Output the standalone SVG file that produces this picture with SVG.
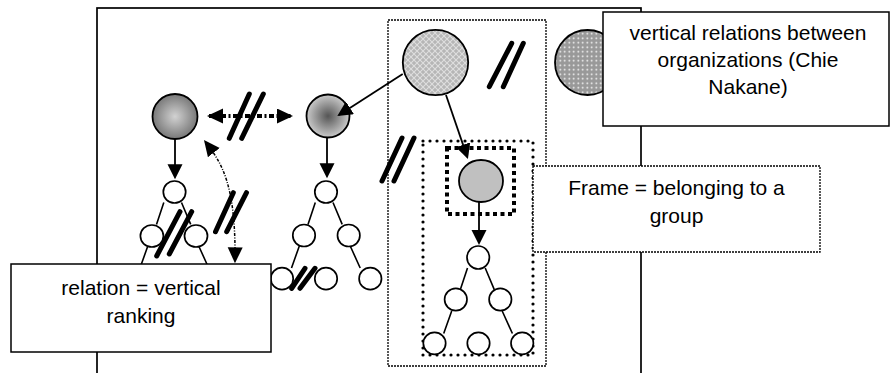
<svg xmlns="http://www.w3.org/2000/svg" width="890" height="373" viewBox="0 0 890 373">
<style>
.frame{fill:none;stroke:#000;stroke-width:1.7}
.thin{fill:none;stroke:#000;stroke-width:1.3;stroke-dasharray:2 1}
.dots{fill:none;stroke:#000;stroke-width:3.2;stroke-linecap:round;stroke-dasharray:0 7}
.sq{fill:none;stroke:#000;stroke-width:4;stroke-dasharray:4 3.5}
.tc{fill:#fff;stroke:#000;stroke-width:1.7}
.tl{stroke:#000;stroke-width:1.6;fill:none}
.ar{stroke:#000;stroke-width:1.8;fill:none;marker-end:url(#ah)}
.sl{stroke:#000;stroke-width:5;stroke-linecap:round}
.box{fill:#fff;stroke:#000;stroke-width:1.5}
.dbox{fill:#fff;stroke:#000;stroke-width:1.3;stroke-dasharray:2 1}
.lbl{font-family:"Liberation Sans",Arial,sans-serif;font-size:21px;fill:#000;text-anchor:middle}
.nd{stroke:#000;stroke-width:1.8}
</style>
<defs>
<marker id="ah" markerUnits="userSpaceOnUse" markerWidth="16" markerHeight="16" refX="13" refY="7.5" orient="auto"><path d="M0,0 L15,7.5 L0,15 z" fill="#000"/></marker>
<marker id="ahd" markerUnits="userSpaceOnUse" markerWidth="18" markerHeight="16" refX="14" refY="7.5" orient="auto-start-reverse"><path d="M0,0 L16,7.5 L0,15 z" fill="#000"/></marker>
<radialGradient id="gLight"><stop offset="0" stop-color="#d2d2d2"/><stop offset="1" stop-color="#787878"/></radialGradient>
<radialGradient id="gDark"><stop offset="0" stop-color="#555"/><stop offset="1" stop-color="#cacaca"/></radialGradient>
<pattern id="plaid" width="6" height="6" patternUnits="userSpaceOnUse"><rect width="6" height="6" fill="#b6b6b6"/><path d="M0 0L6 6M6 0L0 6" stroke="#dedede" stroke-width="1.1"/></pattern>
<pattern id="dotf" width="4.5" height="4.5" patternUnits="userSpaceOnUse"><rect width="4.5" height="4.5" fill="#999"/><circle cx="2.25" cy="2.25" r="0.85" fill="#fff"/></pattern>
</defs>

<rect id="outer" class="frame" x="97" y="8" width="544" height="380"/>

<g id="groupFrames">
<rect class="thin" x="388" y="20" width="158" height="346"/>
<rect class="dots" x="423" y="141" width="110" height="214"/>
<rect class="sq" x="447" y="148" width="67" height="66"/>
</g>

<g id="nodeA"><circle class="nd" cx="175" cy="116.5" r="22.5" fill="url(#gLight)"/></g>
<g id="nodeB"><circle class="nd" cx="328" cy="116" r="21.5" fill="url(#gDark)"/></g>
<g id="nodeTop"><circle class="nd" cx="435.5" cy="62.5" r="32.7" fill="url(#plaid)"/></g>
<g id="nodeRight"><circle class="nd" cx="587.5" cy="62.5" r="32.5" fill="url(#dotf)"/></g>
<g id="nodeGray"><ellipse class="nd" cx="481" cy="181" rx="22" ry="21" fill="#c0c0c0"/></g>

<g id="treeLeft" transform="translate(174.5,192)">
<path class="tl" d="M-10.7,10.5L-18,32.4M7,10.5L16.2,32.4M-26.5,53.5L-34.5,76M24,53.5L34.2,76"/>
<ellipse class="tc" cx="0" cy="0" rx="11.2" ry="11"/>
<ellipse class="tc" cx="-22.6" cy="44" rx="11.5" ry="11"/>
<ellipse class="tc" cx="21.5" cy="44" rx="11.5" ry="11"/>
</g>
<g id="treeMid" transform="translate(326,192)">
<path class="tl" d="M-10.7,10.5L-18,32.4M7,10.5L16.2,32.4M-26.5,53.5L-34.5,76M24,53.5L34.2,76"/>
<ellipse class="tc" cx="0" cy="0" rx="11.2" ry="11"/>
<ellipse class="tc" cx="-22" cy="43.5" rx="11.2" ry="11"/>
<ellipse class="tc" cx="22.7" cy="43.5" rx="11.2" ry="11"/>
<ellipse class="tc" cx="-44" cy="86.7" rx="11.2" ry="11"/>
<ellipse class="tc" cx="0" cy="86.7" rx="11.2" ry="11"/>
<ellipse class="tc" cx="44.3" cy="86.7" rx="11.2" ry="11"/>
</g>
<g id="treeRight" transform="translate(478.2,257.5)">
<path class="tl" d="M-10.7,10.5L-18,32.4M7,10.5L16.2,32.4M-26.5,53.5L-34.5,76M24,53.5L34.2,76"/>
<ellipse class="tc" cx="0" cy="0" rx="11.2" ry="11.5"/>
<ellipse class="tc" cx="-22.4" cy="42" rx="11.2" ry="11.2"/>
<ellipse class="tc" cx="22.1" cy="42" rx="11.2" ry="11.2"/>
<ellipse class="tc" cx="-43.7" cy="85.8" rx="11.2" ry="11"/>
<ellipse class="tc" cx="0.3" cy="85.8" rx="11.2" ry="11"/>
<ellipse class="tc" cx="44" cy="85.8" rx="11.2" ry="11"/>
</g>

<g id="connectors">
<line class="ar" x1="175" y1="139" x2="175" y2="177.3"/>
<line class="ar" x1="327" y1="138" x2="327" y2="176.3"/>
<line class="ar" x1="479" y1="202" x2="479" y2="243"/>
<line class="ar" x1="402.7" y1="74" x2="339" y2="114.9"/>
<line class="ar" x1="446" y1="95" x2="467.3" y2="157.1"/>
<line x1="209" y1="116" x2="291" y2="116" stroke="#000" stroke-width="4" stroke-dasharray="5 2.5 2 2.5" marker-start="url(#ahd)" marker-end="url(#ahd)"/>
<path d="M205.2,141.6 C222,163 236,185 235,261.3" fill="none" stroke="#000" stroke-width="1.5" stroke-dasharray="3 1.5 1 1.5" marker-start="url(#ahd)" marker-end="url(#ahd)"/>
</g>

<g id="slashes">
<line class="sl" x1="229.3" y1="138.3" x2="249.3" y2="94"/>
<line class="sl" x1="241.7" y1="138.3" x2="263.3" y2="94"/>
<line class="sl" x1="489.3" y1="86.7" x2="511.7" y2="43.3"/>
<line class="sl" x1="503.3" y1="86.7" x2="523.3" y2="43.3"/>
<line class="sl" x1="382" y1="181" x2="402" y2="138"/>
<line class="sl" x1="394" y1="181" x2="414" y2="138"/>
<line class="sl" x1="156.7" y1="256" x2="180" y2="211.7"/>
<line class="sl" x1="169.3" y1="254" x2="191.7" y2="211.7"/>
<line class="sl" x1="215.5" y1="231.7" x2="233.3" y2="192.7"/>
<line class="sl" x1="226.7" y1="231.7" x2="246.5" y2="192.7"/>
<line class="sl" x1="291.7" y1="288.3" x2="305" y2="268.3"/>
<line class="sl" x1="300" y1="288.3" x2="315" y2="268.3"/>
</g>

<g id="labelTop">
<rect class="box" x="603" y="12" width="286" height="114"/>
<text class="lbl" x="748" y="40">vertical relations between</text>
<text class="lbl" x="748" y="67">organizations (Chie</text>
<text class="lbl" x="748" y="94">Nakane)</text>
</g>
<g id="labelFrame">
<rect class="dbox" x="533" y="166" width="287" height="86"/>
<text class="lbl" x="676.5" y="195">Frame = belonging to a</text>
<text class="lbl" x="676.5" y="223">group</text>
</g>
<g id="labelRelation">
<rect class="box" x="11" y="264" width="260" height="88"/>
<text class="lbl" x="141" y="295">relation = vertical</text>
<text class="lbl" x="141" y="323">ranking</text>
</g>
</svg>
